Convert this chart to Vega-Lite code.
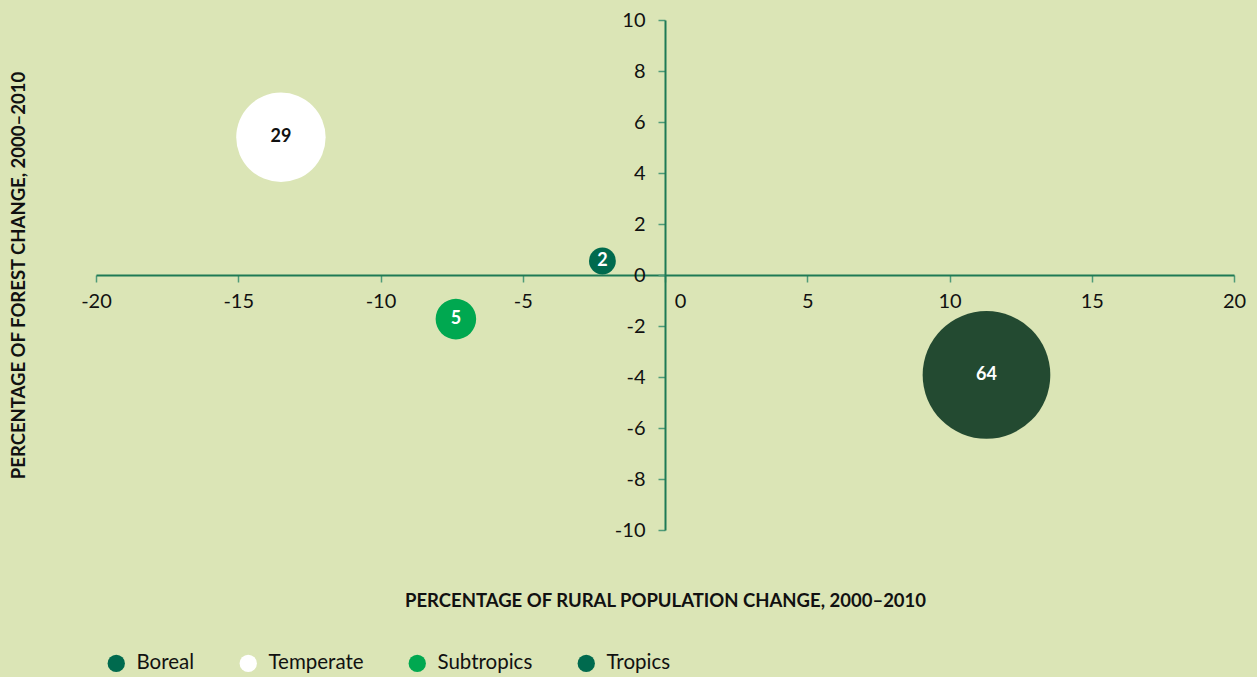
{
  "$schema": "https://vega.github.io/schema/vega-lite/v6.json",
  "width": 1138,
  "height": 510,
  "autosize": {"type": "none"},
  "padding": {"left": 96, "top": 20, "right": 23, "bottom": 147},
  "background": "#dbe5b6",
  "config": {
    "view": {"stroke": null},
    "font": "Lato"
  },
  "data": {
    "values": [
      {"region": "Boreal", "rural": -2.2, "forest": 0.55, "share": 2},
      {"region": "Temperate", "rural": -13.5, "forest": 5.4, "share": 29},
      {"region": "Subtropics", "rural": -7.35, "forest": -1.73, "share": 5},
      {"region": "Tropics", "rural": 11.3, "forest": -3.92, "share": 64}
    ]
  },
  "encoding": {
    "x": {
      "field": "rural",
      "type": "quantitative",
      "scale": {"domain": [-20, 20], "nice": false, "zero": false},
      "axis": {
        "orient": "bottom",
        "offset": -255,
        "values": [-20, -15, -10, -5, 0, 5, 10, 15, 20],
        "labelExpr": "datum.value + ''",
        "grid": false,
        "domainColor": "#1e7a55",
        "domainWidth": 2,
        "tickColor": "#4f9b78",
        "tickWidth": 1.5,
        "tickSize": 7,
        "labelFont": "Lato",
        "labelFontSize": 20,
        "labelColor": "#111111",
        "labelPadding": 9,
        "labelOffset": {"condition": {"test": "datum.value == 0", "value": 15}, "value": 0},
        "labelFlush": false,
        "labelOverlap": false,
        "title": "PERCENTAGE OF RURAL POPULATION CHANGE, 2000–2010",
        "titleFont": "Lato",
        "titleFontSize": 18.5,
        "titleFontWeight": "bold",
        "titleColor": "#111111",
        "titleX": 569,
        "titleY": 316,
        "titleAnchor": "middle",
        "titleBaseline": "top"
      }
    },
    "y": {
      "field": "forest",
      "type": "quantitative",
      "scale": {"domain": [-10, 10], "nice": false, "zero": false},
      "axis": {
        "orient": "left",
        "offset": -569,
        "values": [-10, -8, -6, -4, -2, 0, 2, 4, 6, 8, 10],
        "labelExpr": "datum.value + ''",
        "grid": false,
        "domainColor": "#1e7a55",
        "domainWidth": 2,
        "tickColor": "#4f9b78",
        "tickWidth": 1.5,
        "tickSize": 7,
        "labelFont": "Lato",
        "labelFontSize": 20,
        "labelColor": "#111111",
        "labelPadding": 13,
        "labelFlush": false,
        "labelOverlap": false,
        "title": "PERCENTAGE OF FOREST CHANGE, 2000–2010",
        "titleFont": "Lato",
        "titleFontSize": 18.5,
        "titleFontWeight": "bold",
        "titleColor": "#111111",
        "titleX": -647,
        "titleY": 255,
        "titleAngle": -90,
        "titleAnchor": "middle",
        "titleBaseline": "middle"
      }
    }
  },
  "layer": [
    {
      "mark": {"type": "circle", "opacity": 1, "strokeWidth": 0},
      "encoding": {
        "size": {
          "field": "share",
          "type": "quantitative",
          "scale": {"type": "pow", "exponent": 0.9, "domain": [0, 64], "range": [0, 16300]},
          "legend": null
        },
        "color": {
          "field": "region",
          "type": "nominal",
          "scale": {
            "domain": ["Boreal", "Temperate", "Subtropics", "Tropics"],
            "range": ["#006a4e", "#ffffff", "#00a850", "#006a4e"]
          },
          "condition": {"test": "datum.region == 'Tropics'", "value": "#234a31"},
          "legend": {
            "title": null,
            "orient": "none",
            "legendX": 10,
            "legendY": 633,
            "direction": "horizontal",
            "symbolType": "circle",
            "symbolSize": 300,
            "symbolStrokeWidth": 0,
            "symbolOpacity": 1,
            "labelFont": "Lato",
            "labelFontSize": 20.5,
            "labelColor": "#111111",
            "labelOffset": 10,
            "columnPadding": 43
          }
        }
      }
    },
    {
      "mark": {"type": "text", "font": "Lato", "fontSize": 18, "fontWeight": "bold", "align": "center", "baseline": "middle"},
      "encoding": {
        "text": {"field": "share", "type": "quantitative"},
        "color": {
          "condition": {"test": "datum.region == 'Temperate'", "value": "#111111"},
          "value": "#ffffff"
        }
      }
    }
  ]
}
